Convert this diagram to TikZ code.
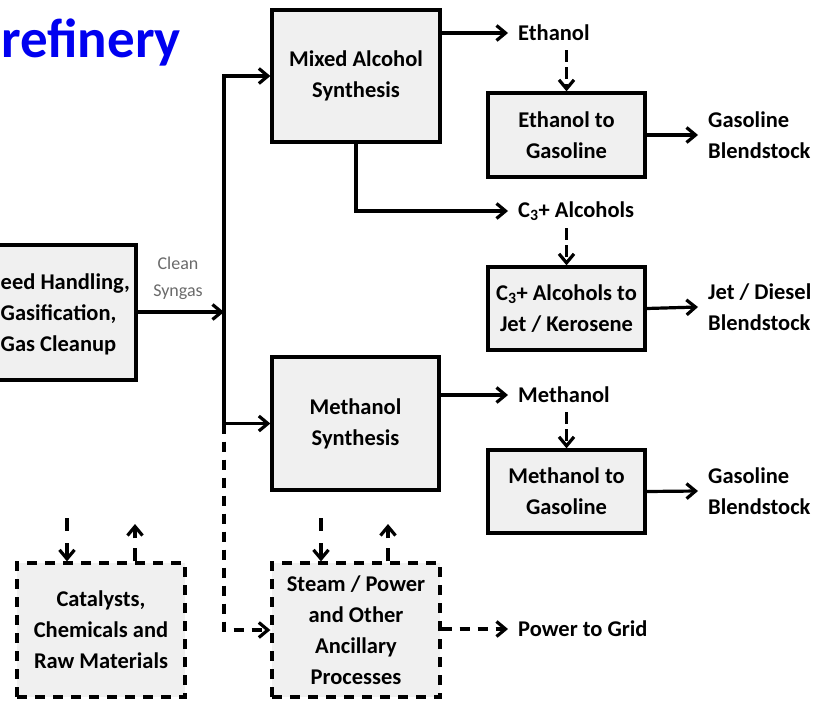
\documentclass[tikz,border=0pt]{standalone}
\usepackage{fontspec}
\setmainfont{Carlito}
\usetikzlibrary{arrows.meta}
\definecolor{boxfill}{HTML}{F0F0F0}
\definecolor{syngasgray}{HTML}{6A6A6A}
\definecolor{titleblue}{HTML}{0000F0}

\begin{document}
\begin{tikzpicture}[x=1pt,y=-1pt,
  every node/.style={font=\fontsize{22.5}{31}\selectfont\bfseries, align=center},
  proc/.style={draw, line width=3.3pt, fill=boxfill, inner sep=0pt},
  aux/.style={proc, dash pattern=on 10pt off 8pt},
  flow/.style={line width=3.2pt, -{Straight Barb[length=9pt,width=15pt]}},
  dflow/.style={flow, dash pattern=on 10pt off 8pt},
  prod/.style={anchor=west, inner xsep=10pt, inner ysep=0pt, align=left},
]
\useasboundingbox (0,0) rectangle (827,707);
\clip (0,0) rectangle (827,707);

% title
\node[anchor=base west, inner sep=0pt, text=titleblue,
      font=\fontsize{55}{60}\selectfont\bfseries] (title) at (1,57) {refinery};

% main process blocks
\node[proc, minimum width=166pt, minimum height=135pt] (feed) at (53,312.5) {};
\node[anchor=west, align=left, inner sep=0pt] (feedtext) at (0.5,314)
  {eed Handling,\\Gasification,\\Gas Cleanup};
\node[proc, minimum width=168pt, minimum height=132pt] (mixed) at (356,76)
  {Mixed Alcohol\\Synthesis};
\node[proc, minimum width=167pt, minimum height=133pt] (meoh) at (355.5,423.5)
  {Methanol\\Synthesis};
\node[proc, minimum width=157pt, minimum height=84pt] (etg) at (566.5,135)
  {Ethanol to\\Gasoline};
\node[proc, minimum width=157pt, minimum height=83pt] (c3jet) at (566.5,308.5)
  {C\textsubscript{3}+ Alcohols to\\Jet / Kerosene};
\node[proc, minimum width=157pt, minimum height=83pt] (mtg) at (566.5,491.5)
  {Methanol to\\Gasoline};

% ancillary blocks
\node[aux, minimum width=168pt, minimum height=134pt] (steam) at (356,630)
  {Steam / Power\\and Other\\Ancillary\\Processes};
\node[aux, minimum width=168pt, minimum height=134pt] (cat) at (101,630)
  {Catalysts,\\Chemicals and\\Raw Materials};

% stream labels
\node[prod] (ethanol) at (508,33) {Ethanol};
\node[prod] (c3) at (508,211) {C\textsubscript{3}+ Alcohols};
\node[prod] (methanol) at (508,395) {Methanol};
\node[prod] (grid) at (508,629) {Power to Grid};
\node[prod] (gas1) at (698,135) {Gasoline\\Blendstock};
\node[prod] (jet) at (698,307) {Jet / Diesel\\Blendstock};
\node[prod] (gas2) at (698,491) {Gasoline\\Blendstock};
\node[text=syngasgray, font=\fontsize{18}{27}\selectfont] (syngas) at (178,278)
  {Clean\\Syngas};

% syngas distribution
\coordinate (jn) at (224,312);
\draw[flow] (feed.east |- jn) -- (jn);
\draw[flow] (jn) |- (mixed.west);
\draw[flow] (jn) |- (meoh.west);
\draw[dflow] (jn |- meoh.west) |- (steam.west);

% alcohol products
\draw[flow] (mixed.east |- ethanol.west) -- (ethanol.west);
\draw[flow] (mixed.south) |- (c3.west);
\draw[flow] (meoh.east |- methanol.west) -- (methanol.west);
\draw[flow, dash pattern=on 12pt off 5pt] (etg.north |- 0,50) -- (etg.north);
\draw[flow, dash pattern=on 12pt off 5pt] (c3jet.north |- 0,228) -- (c3jet.north);
\draw[flow, dash pattern=on 12pt off 5pt] (mtg.north |- 0,412) -- (mtg.north);

% upgraded fuels
\draw[flow] (etg.east) -- (gas1.west);
\draw[flow] (c3jet.east) -- (jet.west);
\draw[flow] (mtg.east) -- (gas2.west);

% utilities
\draw[dflow] (steam.east |- grid.west) -- (grid.west);
\coordinate (sIn) at (321,518);
\coordinate (sOut) at (388,524);
\coordinate (cIn) at (67,518);
\coordinate (cOut) at (135,524);
\draw[dflow, dash pattern=on 13pt off 12pt] (sIn) -- (sIn |- steam.north);
\draw[dflow, dash pattern=on 13pt off 10pt] (sOut |- steam.north) -- (sOut);
\draw[dflow, dash pattern=on 13pt off 12pt] (cIn) -- (cIn |- cat.north);
\draw[dflow, dash pattern=on 13pt off 10pt] (cOut |- cat.north) -- (cOut);
\end{tikzpicture}
\end{document}
